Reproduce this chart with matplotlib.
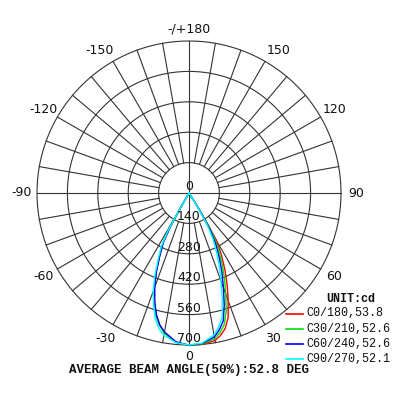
import numpy as np
import matplotlib
matplotlib.use('Agg')
import matplotlib.pyplot as plt
from matplotlib.lines import Line2D

# ---- data ----
GAMMA = [0, 5, 10, 12.5, 15, 17.5, 20, 22.5, 25, 27.5, 29, 30, 31, 32, 33, 90]

C0 = [702, 700, 690, 672, 645, 600, 528, 460, 392, 325, 280, 250, 170, 80, 0, 0]
C30 = [701, 698, 681, 659, 627, 570, 495, 428, 361, 297, 250, 220, 143, 60, 0, 0]
C60 = [701, 696, 673, 645, 610, 540, 463, 397, 331, 268, 222, 190, 117, 40, 0, 0]
C90 = [700, 694, 664, 632, 592, 510, 430, 365, 300, 240, 190, 160, 90, 20, 0, 0]

C180 = [702, 690, 652, 624, 584, 528, 466, 396, 320, 258, 178, 65, 0, 0, 0, 0]
C210 = [702, 690, 655, 625, 585, 530, 470, 400, 325, 262, 185, 70, 0, 0, 0, 0]
C240 = [701, 688, 650, 622, 580, 525, 462, 392, 318, 255, 175, 60, 0, 0, 0, 0]
C270 = [700, 692, 665, 640, 600, 542, 482, 412, 335, 275, 200, 80, 0, 0, 0, 0]

SERIES_NAMES = ['C0/180', 'C30/210', 'C60/240', 'C90/270']
BEAM_ANGLES = [53.8, 52.6, 52.6, 52.1]
AVG_BEAM = 52.8
COLORS = ['#ff0000', '#00e000', '#0000ff', '#00ffff']

RINGS = [140, 280, 420, 560, 700]
ANGLE_TICKS = [0, 30, 60, 90, 120, 150, 180, -150, -120, -90, -60, -30]
ANGLE_LABELS = ['0', '30', '60', '90', '120', '150', '-/+180',
                '-150', '-120', '-90', '-60', '-30']

PAIRS = [(C0, C180), (C30, C210), (C60, C240), (C90, C270)]

# ---- figure ----
fig = plt.figure(figsize=(4, 4), dpi=100)
fig.patch.set_facecolor('white')
ax = fig.add_axes([0.0925, 0.1375, 0.76, 0.76], projection='polar')
ax.set_theta_zero_location('S')
ax.set_theta_direction(1)
ax.set_ylim(0, 700)
ax.set_axis_off()

gridc = '#333333'
lw_grid = 0.8
tt = np.linspace(0, 2 * np.pi, 721)
for r in RINGS:
    ax.plot(tt, np.full_like(tt, r), color=gridc, lw=lw_grid, zorder=1, clip_on=False)
for d in range(0, 360, 10):
    r0 = 0 if d % 90 == 0 else RINGS[0]
    ax.plot([np.deg2rad(d)] * 2, [r0, RINGS[-1]], color=gridc, lw=lw_grid,
            zorder=1, clip_on=False)

# curves
g = np.array(GAMMA, dtype=float)
for (right, left), col in zip(PAIRS, COLORS):
    th = np.concatenate([-g[::-1], g[1:]])
    rr = np.concatenate([np.array(left)[::-1], np.array(right)[1:]])
    ax.plot(np.deg2rad(th), rr, color=col, lw=1.0, zorder=3, clip_on=False)

# radial labels
ax.text(0, 0, '0', ha='center', va='bottom', fontsize=9, color='#111111',
        family='DejaVu Sans', zorder=4)
for r in RINGS:
    ax.text(0, r, str(r), ha='center', va='bottom', fontsize=9,
            color='#111111', family='DejaVu Sans', zorder=4)

# angle labels
for a, lab in zip(ANGLE_TICKS, ANGLE_LABELS):
    if a == 0:
        rr = 752
    elif a == 180:
        rr = 757
    elif abs(a) == 150:
        rr = 776
    else:
        rr = 772
    aa = a - 2 if a == 150 else (a + 2 if a == -150 else a)
    ax.text(np.deg2rad(aa), rr, lab, ha='center', va='center', fontsize=9,
            color='#111111', family='DejaVu Sans', clip_on=False)

# legend (manual)
W, H = 400.0, 400.0
fig.text(351 / W, 1 - 299 / H, 'UNIT:cd', ha='center', va='center',
         family='Liberation Mono', weight='bold', fontsize=8.5, color='#111111')
for i, (name, ba, col) in enumerate(zip(SERIES_NAMES, BEAM_ANGLES, COLORS)):
    y = 1 - (313.5 + 15.3 * i) / H
    fig.add_artist(Line2D([286 / W, 303 / W], [y, y], color=col, lw=1.2,
                          transform=fig.transFigure))
    fig.text(306 / W, y, f'{name},{ba}', ha='left', va='center',
             family='Liberation Mono', fontsize=8.5, color='#111111')

fig.text(189 / W, 1 - 370 / H, f'AVERAGE BEAM ANGLE(50%):{AVG_BEAM} DEG',
         ha='center', va='center', family='Liberation Mono', weight='bold',
         fontsize=9, color='#111111')

fig.savefig('out.png', dpi=100, facecolor='white')
